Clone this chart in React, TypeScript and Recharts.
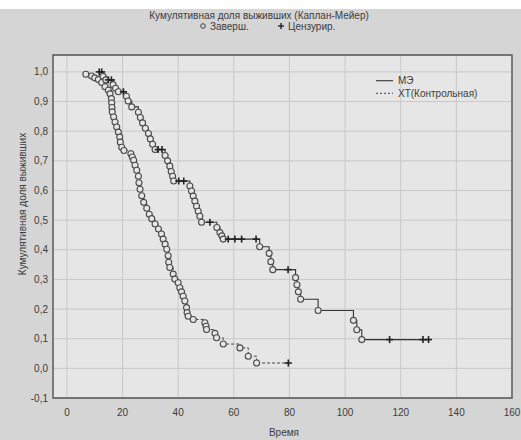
import { CartesianGrid, ComposedChart, Line, ReferenceArea, XAxis, YAxis } from 'recharts';

// [time, survival] at each completed event (open circles)
const meEvents: [number, number][] = [
  [13, 0.985], [14, 0.973], [16.6, 0.957], [17.5, 0.945], [18.5, 0.933], [21.4, 0.918], [22, 0.902], [23.3, 0.882],
  [25.7, 0.864], [26.4, 0.846], [27.2, 0.828], [28.2, 0.81], [29.3, 0.792], [30, 0.774], [30.8, 0.756], [31.7, 0.738],
  [35.3, 0.718], [36.2, 0.7], [37, 0.682], [37.5, 0.664], [38, 0.648], [38.4, 0.632],
  [44.2, 0.615], [44.8, 0.598], [45.4, 0.581], [46, 0.564], [46.6, 0.547], [47.2, 0.53], [47.8, 0.513], [48.4, 0.493],
  [53.9, 0.475], [55, 0.458], [55.7, 0.447], [56.2, 0.436],
  [69.3, 0.41], [72.7, 0.388], [73.3, 0.36], [74, 0.333],
  [82.2, 0.306], [82.7, 0.282], [83.2, 0.258], [84, 0.233],
  [90.3, 0.195], [103, 0.162], [104.2, 0.13], [106, 0.097],
];
// censored observations (crosses)
const meCensored: [number, number][] = [
  [11.6, 1.0], [12.5, 1.0], [14.9, 0.973], [16, 0.973], [20.3, 0.933], [32.8, 0.738], [34.2, 0.738],
  [40.2, 0.632], [42, 0.632], [51.4, 0.493], [58, 0.436], [60.4, 0.436], [62.8, 0.436], [68, 0.436],
  [79.5, 0.333], [116, 0.097], [128, 0.097], [130, 0.097],
];

const xtEvents: [number, number][] = [
  [6.8, 0.992], [8.9, 0.986], [10, 0.98], [11.3, 0.974], [12.5, 0.964], [13.7, 0.95], [14.9, 0.938], [15.5, 0.926],
  [16, 0.91], [16.1, 0.895], [16.2, 0.88], [16.3, 0.865], [16.8, 0.848], [17.3, 0.831], [17.9, 0.814], [18.5, 0.797],
  [19, 0.78], [19.2, 0.763], [19.7, 0.746], [20.5, 0.735], [23, 0.724], [23.5, 0.713], [24, 0.702], [24.5, 0.685],
  [25.1, 0.668], [25.7, 0.648], [25.9, 0.626], [26.3, 0.604], [26.9, 0.582], [27.6, 0.56], [28.7, 0.54], [29.6, 0.52],
  [30.5, 0.505], [31.7, 0.487], [32.9, 0.47], [34, 0.453], [34.6, 0.436], [35.3, 0.419], [35.9, 0.402], [36.4, 0.38],
  [36.6, 0.358], [37, 0.34], [38.2, 0.318], [38.8, 0.301], [40, 0.289], [40.6, 0.272], [41.2, 0.258], [41.8, 0.243],
  [42.4, 0.227], [43, 0.205], [43.2, 0.188], [43.6, 0.176], [45.4, 0.165], [49.6, 0.154], [50, 0.142], [50.2, 0.131],
  [53.2, 0.118], [53.8, 0.103], [56.2, 0.082], [62.2, 0.069], [65.2, 0.041], [68.2, 0.018],
];
const xtCensored: [number, number][] = [[79.6, 0.018]];

const xTicks = [0, 20, 40, 60, 80, 100, 120, 140, 160];
const yTicks = [-0.1, 0, 0.1, 0.2, 0.3, 0.4, 0.5, 0.6, 0.7, 0.8, 0.9, 1.0];

const title = 'Кумулятивная доля выживших (Каплан-Мейер)';
const yLabel = 'Кумулятивная доля выживших';
const xLabel = 'Время';

const PLOT_BG = '#e6e6e6';
const INK = '#3c3c3c';
const FONT = '"Liberation Sans", Arial, sans-serif';

const buildPath = (events: [number, number][], censored: [number, number][]) =>
  [
    ...events.map(([t, s]) => ({ t, s, kind: 'e' })),
    ...censored.map(([t, s]) => ({ t, s, kind: 'c' })),
  ].sort((a, b) => a.t - b.t);

const mePath = buildPath(meEvents, meCensored);
const xtPath = buildPath(xtEvents, xtCensored);

const renderMarker = (p: any) => {
  const { cx, cy, payload, index } = p;
  if (cx == null || cy == null) return <g key={`m-${index}`} />;
  if (payload.kind === 'c') {
    return (
      <g key={`m-${index}`} stroke='#222' strokeWidth={1.6}>
        <line x1={cx - 3.5} x2={cx + 3.5} y1={cy} y2={cy} />
        <line x1={cx} x2={cx} y1={cy - 3.5} y2={cy + 3.5} />
      </g>
    );
  }
  return <circle key={`m-${index}`} cx={cx} cy={cy} r={3} fill={PLOT_BG} stroke='#4a4a4a' strokeWidth={1.1} />;
};

function App() {
  return (
    <div style={{ position: 'relative', width: 521, height: 440, background: '#fff', fontFamily: FONT }}>
      <style>{'body{margin:0}'}</style>
      <div style={{ position: 'absolute', left: 0, top: 9, width: 521, height: 431, background: '#d5d5d5' }} />
      <div style={{ position: 'absolute', left: 0, top: 0 }}>
        <ComposedChart width={521} height={440} margin={{ top: 55, right: 9, bottom: 0, left: 0 }}>
          <CartesianGrid fill={PLOT_BG} fillOpacity={1} stroke='#c8c8c8' strokeWidth={1} />
          <XAxis
            dataKey='t'
            type='number'
            domain={[-5, 160]}
            ticks={xTicks}
            allowDataOverflow
            height={42}
            axisLine={false}
            tickLine={false}
            tickSize={0}
            tickMargin={11}
            tick={{ fill: INK, fontSize: 10, fontFamily: FONT }}
          />
          <YAxis
            type='number'
            domain={[-0.1, 1.057]}
            ticks={yTicks}
            allowDataOverflow
            width={53}
            axisLine={false}
            tickLine={false}
            tickSize={0}
            tickMargin={5}
            tick={{ fill: INK, fontSize: 10, fontFamily: FONT }}
            tickFormatter={(v: number) => v.toFixed(1).replace('.', ',')}
          />
          <Line
            data={xtPath}
            dataKey='s'
            type='stepAfter'
            stroke='#444'
            strokeWidth={1}
            strokeDasharray='3 2'
            dot={renderMarker}
            activeDot={false}
            isAnimationActive={false}
          />
          <Line
            data={mePath}
            dataKey='s'
            type='stepAfter'
            stroke='#333'
            strokeWidth={1.1}
            dot={renderMarker}
            activeDot={false}
            isAnimationActive={false}
          />
          <ReferenceArea x1={-5} x2={160} y1={-0.1} y2={1.057} fill='none' stroke='#555' strokeWidth={1.4} />
        </ComposedChart>
      </div>
      <svg width={521} height={440} style={{ position: 'absolute', left: 0, top: 0, pointerEvents: 'none' }}>
        <g fill={INK} fontSize={10} fontFamily={FONT}>
          <text x={259} y={18.5} textAnchor='middle'>{title}</text>
          <circle cx={203} cy={26} r={2.3} fill='none' stroke={INK} strokeWidth={1} />
          <text x={210} y={29.5}>Заверш.</text>
          <g stroke='#222' strokeWidth={1.4}>
            <line x1={278} x2={284} y1={26} y2={26} />
            <line x1={281} x2={281} y1={23} y2={29} />
          </g>
          <text x={288} y={29.5}>Цензурир.</text>

          <line x1={376} x2={393} y1={80.7} y2={80.7} stroke='#333' strokeWidth={1.1} />
          <text x={398} y={84}>МЭ</text>
          <line x1={376} x2={393} y1={93.3} y2={93.3} stroke='#444' strokeWidth={1} strokeDasharray='2 2' />
          <text x={398} y={96.5}>ХТ(Контрольная)</text>

          <text x={284} y={435.5} textAnchor='middle'>{xLabel}</text>
          <text x={22} y={204} textAnchor='middle' dominantBaseline='central' transform='rotate(-90 22 204)'>
            {yLabel}
          </text>
        </g>
      </svg>
    </div>
  );
}

export default App;
